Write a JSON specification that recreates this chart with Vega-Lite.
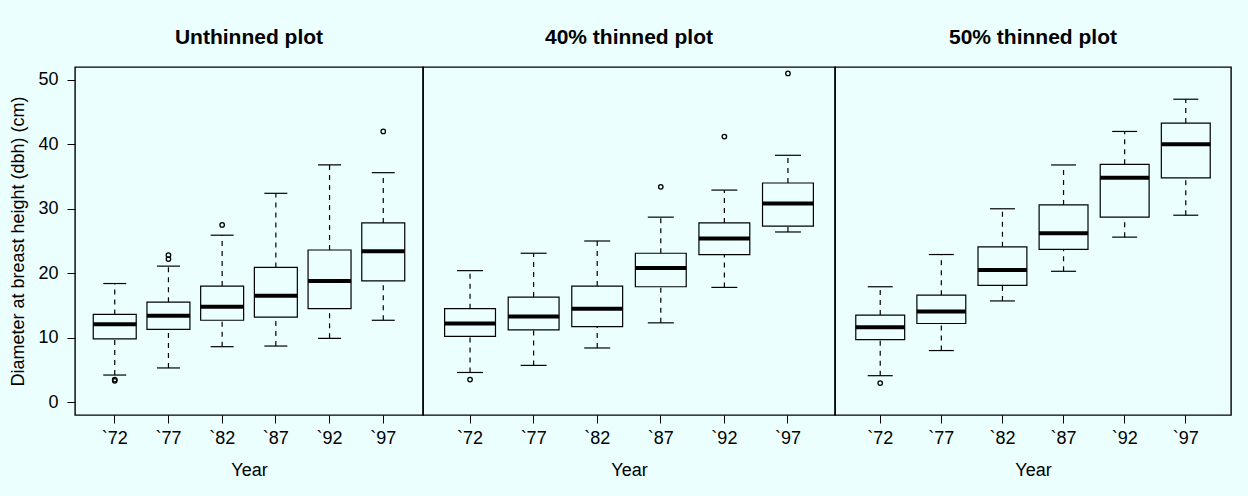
{
  "$schema": "https://vega.github.io/schema/vega-lite/v6.json",
  "background": "#EBFFFF",
  "padding": {"left": 9, "top": 26, "right": 16, "bottom": 22},
  "spacing": 0,
  "bounds": "flush",
  "config": {
    "font": "Liberation Sans",
    "view": {"stroke": "black", "strokeWidth": 1.4},
    "title": {"fontSize": 21, "fontWeight": "bold", "color": "black", "anchor": "middle", "baseline": "alphabetic", "offset": 19},
    "axis": {"grid": false, "domain": false, "tickColor": "black", "tickSize": 8, "labelColor": "black", "labelFontSize": 18, "titleFontSize": 18, "titleFontWeight": "normal", "titleColor": "black", "labelFont": "Liberation Sans", "titleFont": "Liberation Sans"},
    "axisX": {"labelAngle": 0, "labelPadding": 6, "titlePadding": 14},
    "axisY": {"labelPadding": 9, "titlePadding": 10},
    "tick": {"opacity": 1}
  },
  "datasets": {
    "boxes": [
      {"plot": "Unthinned plot", "year": "`72", "lower": 4.2, "q1": 9.8, "median": 12.1, "q3": 13.6, "upper": 18.4},
      {"plot": "Unthinned plot", "year": "`77", "lower": 5.3, "q1": 11.3, "median": 13.4, "q3": 15.5, "upper": 21.1},
      {"plot": "Unthinned plot", "year": "`82", "lower": 8.6, "q1": 12.7, "median": 14.8, "q3": 18.0, "upper": 25.9},
      {"plot": "Unthinned plot", "year": "`87", "lower": 8.7, "q1": 13.2, "median": 16.5, "q3": 20.9, "upper": 32.4},
      {"plot": "Unthinned plot", "year": "`92", "lower": 9.9, "q1": 14.5, "median": 18.8, "q3": 23.6, "upper": 36.8},
      {"plot": "Unthinned plot", "year": "`97", "lower": 12.7, "q1": 18.8, "median": 23.4, "q3": 27.8, "upper": 35.6},
      {"plot": "40% thinned plot", "year": "`72", "lower": 4.6, "q1": 10.2, "median": 12.2, "q3": 14.5, "upper": 20.4},
      {"plot": "40% thinned plot", "year": "`77", "lower": 5.7, "q1": 11.2, "median": 13.3, "q3": 16.3, "upper": 23.1},
      {"plot": "40% thinned plot", "year": "`82", "lower": 8.4, "q1": 11.7, "median": 14.5, "q3": 18.0, "upper": 25.0},
      {"plot": "40% thinned plot", "year": "`87", "lower": 12.3, "q1": 17.9, "median": 20.8, "q3": 23.1, "upper": 28.7},
      {"plot": "40% thinned plot", "year": "`92", "lower": 17.8, "q1": 22.9, "median": 25.4, "q3": 27.8, "upper": 32.9},
      {"plot": "40% thinned plot", "year": "`97", "lower": 26.4, "q1": 27.3, "median": 30.8, "q3": 34.0, "upper": 38.3},
      {"plot": "50% thinned plot", "year": "`72", "lower": 4.1, "q1": 9.7, "median": 11.6, "q3": 13.5, "upper": 17.9},
      {"plot": "50% thinned plot", "year": "`77", "lower": 8.0, "q1": 12.2, "median": 14.05, "q3": 16.6, "upper": 22.9},
      {"plot": "50% thinned plot", "year": "`82", "lower": 15.7, "q1": 18.1, "median": 20.5, "q3": 24.1, "upper": 30.0},
      {"plot": "50% thinned plot", "year": "`87", "lower": 20.3, "q1": 23.7, "median": 26.2, "q3": 30.6, "upper": 36.8},
      {"plot": "50% thinned plot", "year": "`92", "lower": 25.6, "q1": 28.7, "median": 34.8, "q3": 36.9, "upper": 42.0},
      {"plot": "50% thinned plot", "year": "`97", "lower": 29.0, "q1": 34.8, "median": 40.0, "q3": 43.3, "upper": 47.0}
    ],
    "outliers": [
      {"plot": "Unthinned plot", "year": "`72", "value": 3.3},
      {"plot": "Unthinned plot", "year": "`72", "value": 3.5},
      {"plot": "Unthinned plot", "year": "`77", "value": 22.2},
      {"plot": "Unthinned plot", "year": "`77", "value": 22.8},
      {"plot": "Unthinned plot", "year": "`82", "value": 27.5},
      {"plot": "Unthinned plot", "year": "`97", "value": 42.0},
      {"plot": "40% thinned plot", "year": "`72", "value": 3.5},
      {"plot": "40% thinned plot", "year": "`87", "value": 33.4},
      {"plot": "40% thinned plot", "year": "`92", "value": 41.2},
      {"plot": "40% thinned plot", "year": "`97", "value": 51.0},
      {"plot": "50% thinned plot", "year": "`72", "value": 2.95}
    ]
  },
  "hconcat": [
    {
      "width": 348, "height": 348,
      "title": {"text": "Unthinned plot"},
      "encoding": {
        "x": {"field": "year", "type": "ordinal", "title": "Year", "scale": {"type": "band", "domain": ["`72", "`77", "`82", "`87", "`92", "`97"], "paddingInner": 0.2, "paddingOuter": 0.34}}
      },
      "layer": [
        {"data": {"name": "boxes"}, "transform": [{"filter": "datum.plot === 'Unthinned plot'"}],
         "mark": {"type": "rule", "color": "black", "strokeWidth": 1.2, "strokeDash": [5, 5]},
         "encoding": {"y": {"field": "lower", "type": "quantitative", "title": "Diameter at breast height (dbh) (cm)", "scale": {"domain": [-2, 52], "nice": false, "zero": false}, "axis": {"values": [0, 10, 20, 30, 40, 50]}}, "y2": {"field": "q1"}}},
        {"data": {"name": "boxes"}, "transform": [{"filter": "datum.plot === 'Unthinned plot'"}],
         "mark": {"type": "rule", "color": "black", "strokeWidth": 1.2, "strokeDash": [5, 5]},
         "encoding": {"y": {"field": "q3", "type": "quantitative", "title": "Diameter at breast height (dbh) (cm)", "scale": {"domain": [-2, 52], "nice": false, "zero": false}, "axis": {"values": [0, 10, 20, 30, 40, 50]}}, "y2": {"field": "upper"}}},
        {"data": {"name": "boxes"}, "transform": [{"filter": "datum.plot === 'Unthinned plot'"}],
         "mark": {"type": "tick", "color": "black", "opacity": 1, "thickness": 1.2, "size": 23},
         "encoding": {"y": {"field": "lower", "type": "quantitative", "title": "Diameter at breast height (dbh) (cm)", "scale": {"domain": [-2, 52], "nice": false, "zero": false}, "axis": {"values": [0, 10, 20, 30, 40, 50]}}}},
        {"data": {"name": "boxes"}, "transform": [{"filter": "datum.plot === 'Unthinned plot'"}],
         "mark": {"type": "tick", "color": "black", "opacity": 1, "thickness": 1.2, "size": 23},
         "encoding": {"y": {"field": "upper", "type": "quantitative", "title": "Diameter at breast height (dbh) (cm)", "scale": {"domain": [-2, 52], "nice": false, "zero": false}, "axis": {"values": [0, 10, 20, 30, 40, 50]}}}},
        {"data": {"name": "boxes"}, "transform": [{"filter": "datum.plot === 'Unthinned plot'"}],
         "mark": {"type": "bar", "fill": "#EBFFFF", "stroke": "black", "strokeWidth": 1.2},
         "encoding": {"y": {"field": "q1", "type": "quantitative", "title": "Diameter at breast height (dbh) (cm)", "scale": {"domain": [-2, 52], "nice": false, "zero": false}, "axis": {"values": [0, 10, 20, 30, 40, 50]}}, "y2": {"field": "q3"}}},
        {"data": {"name": "boxes"}, "transform": [{"filter": "datum.plot === 'Unthinned plot'"}],
         "mark": {"type": "tick", "color": "black", "opacity": 1, "thickness": 4, "size": 43},
         "encoding": {"y": {"field": "median", "type": "quantitative", "title": "Diameter at breast height (dbh) (cm)", "scale": {"domain": [-2, 52], "nice": false, "zero": false}, "axis": {"values": [0, 10, 20, 30, 40, 50]}}}},
        {"data": {"name": "outliers"}, "transform": [{"filter": "datum.plot === 'Unthinned plot'"}],
         "mark": {"type": "point", "shape": "circle", "filled": false, "color": "black", "strokeWidth": 1.3, "size": 20, "opacity": 1},
         "encoding": {"y": {"field": "value", "type": "quantitative", "title": "Diameter at breast height (dbh) (cm)", "scale": {"domain": [-2, 52], "nice": false, "zero": false}, "axis": {"values": [0, 10, 20, 30, 40, 50]}}}}
      ]
    },
    {
      "width": 412, "height": 348,
      "title": {"text": "40% thinned plot"},
      "encoding": {
        "x": {"field": "year", "type": "ordinal", "title": "Year", "scale": {"type": "band", "domain": ["`72", "`77", "`82", "`87", "`92", "`97"], "paddingInner": 0.2, "paddingOuter": 0.34}}
      },
      "layer": [
        {"data": {"name": "boxes"}, "transform": [{"filter": "datum.plot === '40% thinned plot'"}],
         "mark": {"type": "rule", "color": "black", "strokeWidth": 1.2, "strokeDash": [5, 5]},
         "encoding": {"y": {"field": "lower", "type": "quantitative", "scale": {"domain": [-2, 52], "nice": false, "zero": false}, "axis": null}, "y2": {"field": "q1"}}},
        {"data": {"name": "boxes"}, "transform": [{"filter": "datum.plot === '40% thinned plot'"}],
         "mark": {"type": "rule", "color": "black", "strokeWidth": 1.2, "strokeDash": [5, 5]},
         "encoding": {"y": {"field": "q3", "type": "quantitative", "scale": {"domain": [-2, 52], "nice": false, "zero": false}, "axis": null}, "y2": {"field": "upper"}}},
        {"data": {"name": "boxes"}, "transform": [{"filter": "datum.plot === '40% thinned plot'"}],
         "mark": {"type": "tick", "color": "black", "opacity": 1, "thickness": 1.2, "size": 26},
         "encoding": {"y": {"field": "lower", "type": "quantitative", "scale": {"domain": [-2, 52], "nice": false, "zero": false}, "axis": null}}},
        {"data": {"name": "boxes"}, "transform": [{"filter": "datum.plot === '40% thinned plot'"}],
         "mark": {"type": "tick", "color": "black", "opacity": 1, "thickness": 1.2, "size": 26},
         "encoding": {"y": {"field": "upper", "type": "quantitative", "scale": {"domain": [-2, 52], "nice": false, "zero": false}, "axis": null}}},
        {"data": {"name": "boxes"}, "transform": [{"filter": "datum.plot === '40% thinned plot'"}],
         "mark": {"type": "bar", "fill": "#EBFFFF", "stroke": "black", "strokeWidth": 1.2},
         "encoding": {"y": {"field": "q1", "type": "quantitative", "scale": {"domain": [-2, 52], "nice": false, "zero": false}, "axis": null}, "y2": {"field": "q3"}}},
        {"data": {"name": "boxes"}, "transform": [{"filter": "datum.plot === '40% thinned plot'"}],
         "mark": {"type": "tick", "color": "black", "opacity": 1, "thickness": 4, "size": 51},
         "encoding": {"y": {"field": "median", "type": "quantitative", "scale": {"domain": [-2, 52], "nice": false, "zero": false}, "axis": null}}},
        {"data": {"name": "outliers"}, "transform": [{"filter": "datum.plot === '40% thinned plot'"}],
         "mark": {"type": "point", "shape": "circle", "filled": false, "color": "black", "strokeWidth": 1.3, "size": 20, "opacity": 1},
         "encoding": {"y": {"field": "value", "type": "quantitative", "scale": {"domain": [-2, 52], "nice": false, "zero": false}, "axis": null}}}
      ]
    },
    {
      "width": 396, "height": 348,
      "title": {"text": "50% thinned plot"},
      "encoding": {
        "x": {"field": "year", "type": "ordinal", "title": "Year", "scale": {"type": "band", "domain": ["`72", "`77", "`82", "`87", "`92", "`97"], "paddingInner": 0.2, "paddingOuter": 0.34}}
      },
      "layer": [
        {"data": {"name": "boxes"}, "transform": [{"filter": "datum.plot === '50% thinned plot'"}],
         "mark": {"type": "rule", "color": "black", "strokeWidth": 1.2, "strokeDash": [5, 5]},
         "encoding": {"y": {"field": "lower", "type": "quantitative", "scale": {"domain": [-2, 52], "nice": false, "zero": false}, "axis": null}, "y2": {"field": "q1"}}},
        {"data": {"name": "boxes"}, "transform": [{"filter": "datum.plot === '50% thinned plot'"}],
         "mark": {"type": "rule", "color": "black", "strokeWidth": 1.2, "strokeDash": [5, 5]},
         "encoding": {"y": {"field": "q3", "type": "quantitative", "scale": {"domain": [-2, 52], "nice": false, "zero": false}, "axis": null}, "y2": {"field": "upper"}}},
        {"data": {"name": "boxes"}, "transform": [{"filter": "datum.plot === '50% thinned plot'"}],
         "mark": {"type": "tick", "color": "black", "opacity": 1, "thickness": 1.2, "size": 25},
         "encoding": {"y": {"field": "lower", "type": "quantitative", "scale": {"domain": [-2, 52], "nice": false, "zero": false}, "axis": null}}},
        {"data": {"name": "boxes"}, "transform": [{"filter": "datum.plot === '50% thinned plot'"}],
         "mark": {"type": "tick", "color": "black", "opacity": 1, "thickness": 1.2, "size": 25},
         "encoding": {"y": {"field": "upper", "type": "quantitative", "scale": {"domain": [-2, 52], "nice": false, "zero": false}, "axis": null}}},
        {"data": {"name": "boxes"}, "transform": [{"filter": "datum.plot === '50% thinned plot'"}],
         "mark": {"type": "bar", "fill": "#EBFFFF", "stroke": "black", "strokeWidth": 1.2},
         "encoding": {"y": {"field": "q1", "type": "quantitative", "scale": {"domain": [-2, 52], "nice": false, "zero": false}, "axis": null}, "y2": {"field": "q3"}}},
        {"data": {"name": "boxes"}, "transform": [{"filter": "datum.plot === '50% thinned plot'"}],
         "mark": {"type": "tick", "color": "black", "opacity": 1, "thickness": 4, "size": 49},
         "encoding": {"y": {"field": "median", "type": "quantitative", "scale": {"domain": [-2, 52], "nice": false, "zero": false}, "axis": null}}},
        {"data": {"name": "outliers"}, "transform": [{"filter": "datum.plot === '50% thinned plot'"}],
         "mark": {"type": "point", "shape": "circle", "filled": false, "color": "black", "strokeWidth": 1.3, "size": 20, "opacity": 1},
         "encoding": {"y": {"field": "value", "type": "quantitative", "scale": {"domain": [-2, 52], "nice": false, "zero": false}, "axis": null}}}
      ]
    }
  ]
}
